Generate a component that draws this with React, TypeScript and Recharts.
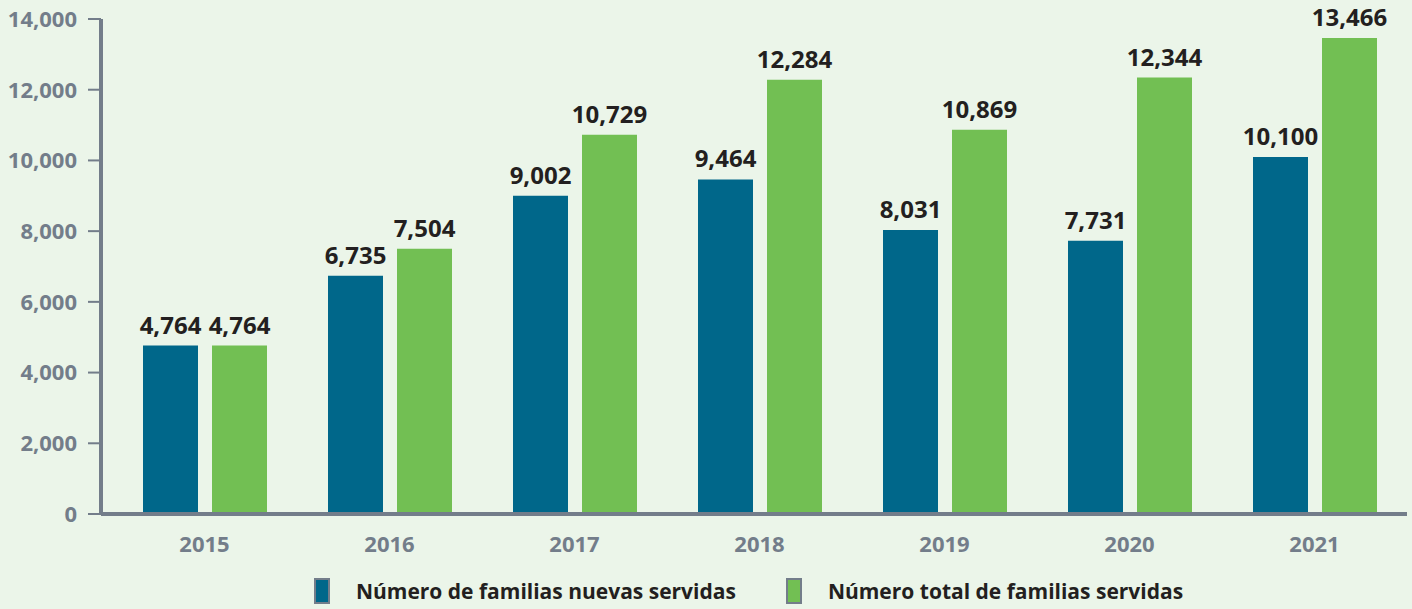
import { BarChart, Bar, XAxis, YAxis, Legend, LabelList } from 'recharts';

const years = ['2015', '2016', '2017', '2018', '2019', '2020', '2021'];
const nuevas = [4764, 6735, 9002, 9464, 8031, 7731, 10100];
const totales = [4764, 7504, 10729, 12284, 10869, 12344, 13466];
const yTicks = [0, 2000, 4000, 6000, 8000, 10000, 12000, 14000];

const data = years.map((year, i) => ({ year, nuevas: nuevas[i], totales: totales[i] }));

const FONT = '"Open Sans", sans-serif';
const GREY = '#737d8a';
const DARK = '#231f20';
const BLUE = '#00678a';
const GREEN = '#72bf53';

const fmt = (v: any) => Number(v).toLocaleString('en-US');

function LegendBox(props: any) {
  const items = props.payload || [];
  return (
    <div style={{ display: 'flex', justifyContent: 'center', gap: 50, paddingLeft: 90, fontFamily: FONT, position: 'relative', top: 13 }}>
      {items.map((it: any) => (
        <div key={it.value} style={{ display: 'flex', alignItems: 'center', gap: 26 }}>
          <span style={{ width: 12, height: 22, background: it.color, border: `2px solid ${GREY}`, display: 'inline-block' }} />
          <span style={{ fontSize: 21, fontWeight: 'bold', color: DARK }}>{it.value}</span>
        </div>
      ))}
    </div>
  );
}

export default function App() {
  return (
    <div style={{ width: 1412, height: 609, background: '#ebf5e9', fontFamily: FONT }}>
      <style>{'body{margin:0}'}</style>
      <BarChart
        width={1412}
        height={609}
        data={data}
        margin={{ top: 19, right: 5, left: 0, bottom: 2 }}
        barGap={14}
        barCategoryGap={31}
      >
        <XAxis
          dataKey="year"
          axisLine={{ stroke: GREY, strokeWidth: 4 }}
          tickLine={false}
          tickSize={0}
          tickMargin={22}
          height={50}
          padding={{ left: 11, right: 0 }}
          tick={{ fill: GREY, fontSize: 22, fontWeight: 'bold', fontFamily: FONT }}
        />
        <YAxis
          width={101}
          domain={[0, 14000]}
          ticks={yTicks}
          tickFormatter={fmt}
          axisLine={{ stroke: GREY, strokeWidth: 4 }}
          tickLine={{ stroke: GREY, strokeWidth: 2 }}
          tickSize={13}
          tickMargin={11}
          tick={{ fill: GREY, fontSize: 22, fontWeight: 'bold', fontFamily: FONT }}
        />
        <Legend verticalAlign="bottom" height={43} content={<LegendBox />} />
        <Bar dataKey="nuevas" name="Número de familias nuevas servidas" fill={BLUE} isAnimationActive={false}>
          <LabelList dataKey="nuevas" position="top" offset={12} formatter={fmt} fill={DARK} fontSize={24} fontWeight="bold" fontFamily={FONT} />
        </Bar>
        <Bar dataKey="totales" name="Número total de familias servidas" fill={GREEN} isAnimationActive={false}>
          <LabelList dataKey="totales" position="top" offset={12} formatter={fmt} fill={DARK} fontSize={24} fontWeight="bold" fontFamily={FONT} />
        </Bar>
      </BarChart>
    </div>
  );
}
